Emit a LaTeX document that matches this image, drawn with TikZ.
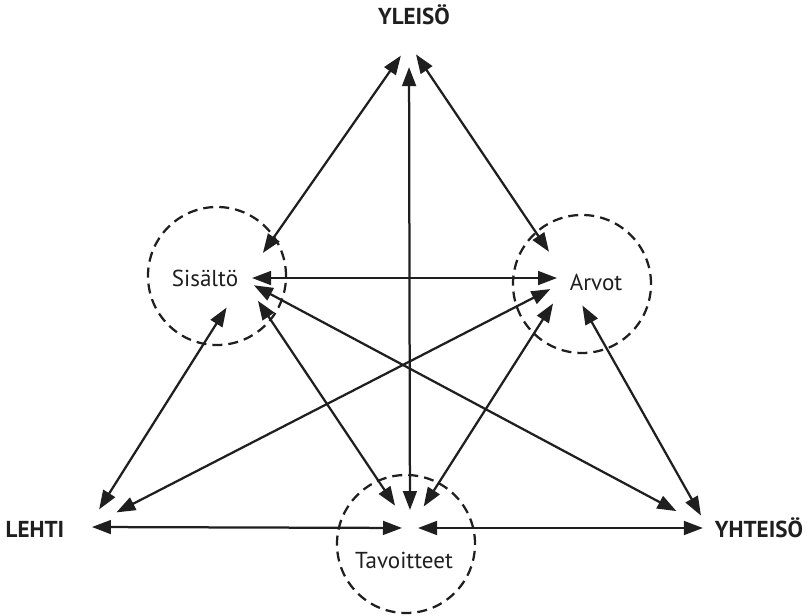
\documentclass[tikz,border=0pt]{standalone}
\usepackage{fontspec}
\setmainfont{PT Sans}
\usetikzlibrary{arrows.meta}

\begin{document}
\begin{tikzpicture}[
  x=0.025cm, y=-0.025cm,
  font=\fontsize{16.4}{19}\selectfont,
  ring/.style={draw=black!88, line width=1.6pt, dash pattern=on 7.1pt off 4.3pt, circle, minimum size=3.45cm, inner sep=0pt},
  word/.style={inner sep=0pt, anchor=base, text=black!88},
  heading/.style={word, font=\fontsize{16.4}{19}\selectfont\bfseries},
  link/.style={{Triangle[length=13.5pt,width=9.8pt]}-{Triangle[length=13.5pt,width=9.8pt]}, line width=1.6pt, draw=black!88}
]
\useasboundingbox (0,0) rectangle (810,616);
\newcommand{\linkpair}[4]{\draw[link, shorten <=#3pt, shorten >=#4pt] (#1) -- (#2);}

% circles and labels
\node[ring] (sisC) at (217,276) {};
\node[ring] (arvC) at (582,284) {};
\node[ring] (tavC) at (406,544) {};
\node[word] (sis) at (205,287) {Sisältö};
\node[word] (arv) at (596,291) {Arvot};
\node[word] (tav) at (404,568) {Tavoitteet};
\node[heading] (yle) at (414,25) {YLEISÖ};
\node[heading] (leh) at (35,537) {LEHTI};
\node[heading] (yht) at (759,537) {YHTEISÖ};

% meeting points of the arrows
\coordinate (yleH) at (409,44);
\coordinate (sisH) at (244,280);
\coordinate (arvH) at (568,280);
\coordinate (lehH) at (88,527);
\coordinate (tavH) at (410,528);
\coordinate (yhtH) at (708,528);

\linkpair{sisH}{yleH}{23.5}{10.1}
\linkpair{arvH}{yleH}{24.2}{8.9}
\linkpair{tavH}{yleH}{12.8}{16.4}
\draw[link, shorten <=5.7pt, shorten >=7.8pt] ([yshift=1.4pt]sisH) -- ([yshift=1.4pt]arvH);
\linkpair{sisH}{lehH}{23.2}{14.8}
\linkpair{sisH}{tavH}{17.8}{19.1}
\linkpair{sisH}{yhtH}{8.0}{25.5}
\linkpair{arvH}{lehH}{14.1}{22.7}
\linkpair{arvH}{tavH}{19.8}{18.1}
\linkpair{arvH}{yhtH}{20.8}{10.2}
\linkpair{lehH}{tavH}{2.8}{5.7}
\linkpair{tavH}{yhtH}{5.7}{3.6}
\end{tikzpicture}
\end{document}
